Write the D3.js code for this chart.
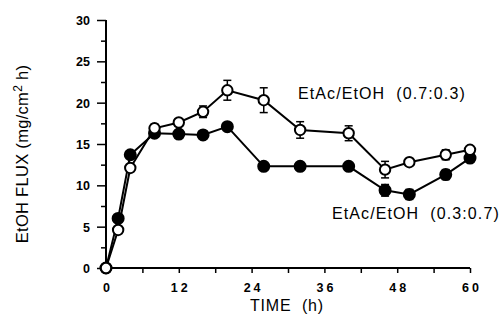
<!DOCTYPE html>
<html>
<head>
<meta charset="utf-8">
<style>
  body { margin: 0; background: #fff; }
  svg { display: block; font-family: "Liberation Sans", Arial, sans-serif; }
</style>
</head>
<body>
<svg width="500" height="322"></svg>
<script src="https://d3js.org/d3.v7.min.js"></script>
<script>
// time points (h)
var times = [0, 2, 4, 8, 12, 16, 20, 26, 32, 40, 46, 50, 56, 60];

// EtAc/EtOH (0.7:0.3) - open circles
var fluxOpen = [0, 4.6, 12.1, 16.9, 17.6, 18.9, 21.5, 20.3, 16.7, 16.3, 11.9, 12.8, 13.7, 14.3];
var errOpen  = [0, 0, 0, 0.5, 0, 0.7, 1.2, 1.5, 1.0, 0.9, 1.0, 0, 0.6, 0];

// EtAc/EtOH (0.3:0.7) - filled circles
var fluxFilled = [0, 6.0, 13.7, 16.3, 16.2, 16.1, 17.1, 12.3, 12.3, 12.3, 9.4, 8.9, 11.3, 13.3];
var errFilled  = [0, 0, 0, 0, 0, 0, 0, 0, 0, 0, 0.7, 0.6, 0.6, 0.3];

var xTicks = [0, 12, 24, 36, 48, 60];
var yTicks = [0, 5, 10, 15, 20, 25, 30];

var svg = d3.select("svg");
var x = d3.scaleLinear().domain([0, 60]).range([106, 470]);
var y = d3.scaleLinear().domain([0, 30]).range([268, 20]);

// axes: minor ticks every 6 h and 2.5 units, labels on the major ones
var xAxis = svg.append("g").attr("transform", "translate(0,268)");
xAxis.call(d3.axisBottom(x).tickValues(d3.range(0, 61, 6)).tickSize(5).tickFormat(""));
xAxis.selectAll(".tick").filter(function(d) { return xTicks.indexOf(d) >= 0; })
  .append("text").attr("y", 24).attr("dx", 1.5).attr("fill", "#000")
  .attr("font-size", 12.5).attr("font-weight", "bold")
  .attr("letter-spacing", 3)
  .text(function(d) { return d; });

var yAxis = svg.append("g").attr("transform", "translate(106,0)");
yAxis.call(d3.axisLeft(y).tickValues(d3.range(0, 30.1, 2.5)).tickSize(5).tickFormat(""));
yAxis.selectAll(".tick").filter(function(d) { return yTicks.indexOf(d) >= 0; })
  .select("line").attr("x2", -9);
yAxis.selectAll(".tick").filter(function(d) { return yTicks.indexOf(d) >= 0; })
  .append("text").attr("x", -16).attr("dy", "0.35em").attr("fill", "#000")
  .attr("text-anchor", "end").attr("font-size", 12.5).attr("font-weight", "bold")
  .text(function(d) { return d; });

xAxis.select(".domain").remove();
yAxis.select(".domain").remove();
svg.append("line").attr("x1", x(0)).attr("x2", x(60)).attr("y1", y(0)).attr("y2", y(0))
  .attr("stroke", "#000").attr("stroke-width", 2);
svg.append("line").attr("x1", x(0)).attr("x2", x(0)).attr("y1", y(0)).attr("y2", y(30))
  .attr("stroke", "#000").attr("stroke-width", 2);
svg.selectAll(".tick line").attr("stroke-width", 1.5);

// series
function drawSeries(vals, errs, filled) {
  var pts = times.map(function(t, i) { return { t: t, v: vals[i], e: errs[i] }; });
  var line = d3.line().x(function(d) { return x(d.t); }).y(function(d) { return y(d.v); });
  svg.append("path").datum(pts).attr("d", line)
    .attr("fill", "none").attr("stroke", "#000").attr("stroke-width", 2);
  var eb = svg.append("g").selectAll("g").data(pts.filter(function(d) { return d.e > 0; }))
    .enter().append("g").attr("stroke", "#000").attr("stroke-width", 1.5);
  eb.append("line").attr("x1", function(d) { return x(d.t); }).attr("x2", function(d) { return x(d.t); })
    .attr("y1", function(d) { return y(d.v - d.e); }).attr("y2", function(d) { return y(d.v + d.e); });
  [1, -1].forEach(function(s) {
    eb.append("line")
      .attr("x1", function(d) { return x(d.t) - 4; }).attr("x2", function(d) { return x(d.t) + 4; })
      .attr("y1", function(d) { return y(d.v + s * d.e); }).attr("y2", function(d) { return y(d.v + s * d.e); });
  });
  svg.append("g").selectAll("circle").data(pts).enter().append("circle")
    .attr("cx", function(d) { return x(d.t); }).attr("cy", function(d) { return y(d.v); })
    .attr("r", filled ? 5.5 : 5.2)
    .attr("fill", filled ? "#000" : "#fff").attr("stroke", "#000").attr("stroke-width", 2);
}
drawSeries(fluxFilled, errFilled, true);
drawSeries(fluxOpen, errOpen, false);

// labels
svg.append("text").attr("x", 298).attr("y", 99).attr("font-size", 16)
  .attr("letter-spacing", 1.1).attr("xml:space", "preserve").text("EtAc/EtOH  (0.7:0.3)");
svg.append("text").attr("x", 332).attr("y", 219).attr("font-size", 16)
  .attr("letter-spacing", 1.1).attr("xml:space", "preserve").text("EtAc/EtOH  (0.3:0.7)");

svg.append("text").attr("x", 250).attr("y", 311)
  .attr("font-size", 16).attr("letter-spacing", 0.8)
  .attr("xml:space", "preserve").text("TIME  (h)");

var yl = svg.append("text").attr("transform", "translate(28,154) rotate(-90)")
  .attr("text-anchor", "middle").attr("font-size", 16.5).attr("letter-spacing", 0.3);
yl.append("tspan").text("EtOH FLUX (mg/cm");
yl.append("tspan").attr("dy", -6).attr("font-size", 12).text("2");
yl.append("tspan").attr("dy", 6).text(" h)");
</script>
</body>
</html>
